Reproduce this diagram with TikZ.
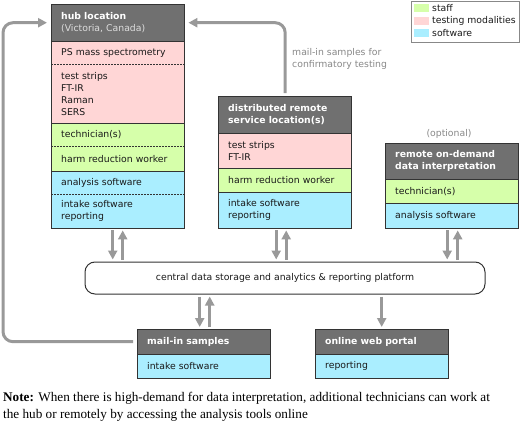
\documentclass[tikz,border=0pt]{standalone}
\usepackage{fontspec}
\setmainfont{DejaVu Sans}
\newfontfamily\notefont{Liberation Serif}
\usetikzlibrary{arrows.meta}
\definecolor{hdrc}{HTML}{707070}
\definecolor{pinkc}{HTML}{FFD6D6}
\definecolor{greenc}{HTML}{D6FFAA}
\definecolor{bluec}{HTML}{AAEEFF}
\definecolor{bordc}{HTML}{333333}
\definecolor{arrc}{HTML}{999999}
\definecolor{lblc}{HTML}{888888}
\definecolor{subc}{HTML}{DDDDDD}
\definecolor{legc}{HTML}{888888}
\newcommand\rowfont{\fontsize{9.3}{12}\selectfont}
\tikzset{
  cell/.style={anchor=north west, minimum width=133pt, text width=113pt, inner xsep=10pt, inner ysep=0pt, align=left, font=\rowfont, text=black!90},
  hcell/.style={cell, fill=hdrc, text=white, font=\rowfont\bfseries},
  pcell/.style={cell, fill=pinkc},
  gcell/.style={cell, fill=greenc},
  bcell/.style={cell, fill=bluec},
  bord/.style={draw=bordc, line width=1pt},
  dsep/.style={draw=bordc, line width=0.8pt, dash pattern=on 1.6pt off 1.4pt},
  garrow/.style={draw=arrc, line width=3pt, -{Triangle[width=9pt,length=9pt]}},
  lbl/.style={font=\rowfont, text=lblc, inner sep=0pt},
}
\begin{document}
\begin{tikzpicture}[x=1pt, y=-1pt]
\useasboundingbox (0,0) rectangle (520,423);

% ---------------- hub
\node[hcell, minimum height=37pt] (hubH) at (51,4) {hub location\\{\mdseries\color{subc}(Victoria, Canada)}};
\node[pcell, minimum height=23pt] (hubPS) at (51,41) {PS mass spectrometry};
\node[pcell, minimum height=59pt] (hubTS) at (51,64) {test strips\\FT-IR\\Raman\\SERS};
\node[gcell, minimum height=23pt] (hubT) at (51,123) {technician(s)};
\node[gcell, minimum height=25pt] (hubW) at (51,146) {harm reduction worker};
\node[bcell, minimum height=23pt] (hubA) at (51,171) {analysis software};
\node[bcell, minimum height=34pt] (hubI) at (51,194) {intake software\\reporting};
\draw[bord] (hubPS.north west) -- (hubPS.north east);
\draw[dsep] (hubTS.north west) -- (hubTS.north east);
\draw[bord] (hubT.north west) -- (hubT.north east);
\draw[dsep] (hubW.north west) -- (hubW.north east);
\draw[bord] (hubA.north west) -- (hubA.north east);
\draw[dsep] (hubI.north west) -- (hubI.north east);
\draw[bord] (hubH.north west) rectangle (hubI.south east);

% ---------------- distributed
\node[hcell, minimum height=37pt] (disH) at (218,96) {distributed remote\\service location(s)};
\node[pcell, minimum height=35pt] (disTS) at (218,133) {test strips\\FT-IR};
\node[gcell, minimum height=24pt] (disW) at (218,168) {harm reduction worker};
\node[bcell, minimum height=36pt] (disI) at (218,192) {intake software\\reporting};
\draw[bord] (disTS.north west) -- (disTS.north east);
\draw[bord] (disW.north west) -- (disW.north east);
\draw[bord] (disI.north west) -- (disI.north east);
\draw[bord] (disH.north west) rectangle (disI.south east);

% ---------------- remote
\node[lbl] (opt) at (449,134) {(optional)};
\node[hcell, minimum height=36pt] (remH) at (385,143) {remote on-demand\\data interpretation};
\node[gcell, minimum height=24pt] (remT) at (385,179) {technician(s)};
\node[bcell, minimum height=25pt] (remA) at (385,203) {analysis software};
\draw[bord] (remT.north west) -- (remT.north east);
\draw[bord] (remA.north west) -- (remA.north east);
\draw[bord] (remH.north west) rectangle (remA.south east);

% ---------------- platform
\node[draw=bordc, line width=1pt, rounded corners=10pt, minimum width=400pt, minimum height=32pt, font=\rowfont, text=black!90] (plat) at (285,278) {central data storage and analytics \& reporting platform};

% ---------------- mail-in and web
\node[hcell, minimum height=25pt] (mailH) at (137,329) {mail-in samples};
\node[bcell, minimum height=24pt] (mailI) at (137,354) {intake software};
\draw[bord] (mailI.north west) -- (mailI.north east);
\draw[bord] (mailH.north west) rectangle (mailI.south east);
\node[hcell, minimum height=25pt] (webH) at (315,329) {online web portal};
\node[bcell, minimum height=24pt] (webR) at (315,354) {reporting};
\draw[bord] (webR.north west) -- (webR.north east);
\draw[bord] (webH.north west) rectangle (webR.south east);

% ---------------- legend
\node[draw=legc, line width=1pt, fill=white, anchor=north west, minimum width=108pt, minimum height=41pt, inner sep=0pt] (leg) at (411,1) {};
\node[fill=greenc, anchor=west, minimum width=15pt, minimum height=8pt, inner sep=0pt] (swS) at (414,8) {};
\node[fill=pinkc, anchor=west, minimum width=15pt, minimum height=8pt, inner sep=0pt] (swT) at (414,20.5) {};
\node[fill=bluec, anchor=west, minimum width=15pt, minimum height=8pt, inner sep=0pt] (swW) at (414,33) {};
\node[anchor=west, font=\rowfont, inner sep=0pt, text=black!90] (lgS) at (432,8) {staff};
\node[anchor=west, font=\rowfont, inner sep=0pt, text=black!90] (lgT) at (432,20.5) {testing modalities};
\node[anchor=west, font=\rowfont, inner sep=0pt, text=black!90] (lgW) at (432,33) {software};

% ---------------- arrows to/from platform
\draw[garrow, shorten <=2pt, shorten >=2pt] ([xshift=-5pt]hubI.south) -- ([xshift=-5pt]hubI.south |- plat.north);
\draw[garrow, shorten <=2pt, shorten >=2pt] ([xshift=5pt]hubI.south |- plat.north) -- ([xshift=5pt]hubI.south);
\draw[garrow, shorten <=2pt, shorten >=2pt] ([xshift=-8.5pt]disI.south) -- ([xshift=-8.5pt]disI.south |- plat.north);
\draw[garrow, shorten <=2pt, shorten >=2pt] ([xshift=1.5pt]disI.south |- plat.north) -- ([xshift=1.5pt]disI.south);
\draw[garrow, shorten <=2pt, shorten >=2pt] ([xshift=-4.5pt]remA.south) -- ([xshift=-4.5pt]remA.south |- plat.north);
\draw[garrow, shorten <=2pt, shorten >=2pt] ([xshift=6pt]remA.south |- plat.north) -- ([xshift=6pt]remA.south);
\draw[garrow, shorten <=2pt, shorten >=2pt] ([xshift=-4pt]mailH.north |- plat.south) -- ([xshift=-4pt]mailH.north);
\draw[garrow, shorten <=2pt, shorten >=2pt] ([xshift=6pt]mailH.north) -- ([xshift=6pt]mailH.north |- plat.south);
\draw[garrow, shorten <=2pt, shorten >=2pt] (webH.north |- plat.south) -- (webH.north);

% ---------------- return paths to hub
\coordinate (loopx) at (3,0);
\draw[garrow, rounded corners=10pt, shorten <=4pt, shorten >=4pt] (mailH.west) -- (mailH.west -| loopx) -- (hubH.west -| loopx) -- (hubH.west);
\draw[garrow, rounded corners=10pt, shorten <=3pt, shorten >=4pt] ([xshift=0.5pt]disH.north) |- (hubH.east);
\node[lbl, anchor=west, align=left] (mlbl) at (292,58.5) {mail-in samples for\\confirmatory testing};

% ---------------- note
\node[anchor=north west, inner sep=0pt, align=left, font=\notefont\fontsize{13.2}{16.8}\selectfont] (note) at (3,392.5) {\textbf{Note:} When there is high-demand for data interpretation, additional technicians can work at\\the hub or remotely by accessing the analysis tools online};
\end{tikzpicture}
\end{document}
